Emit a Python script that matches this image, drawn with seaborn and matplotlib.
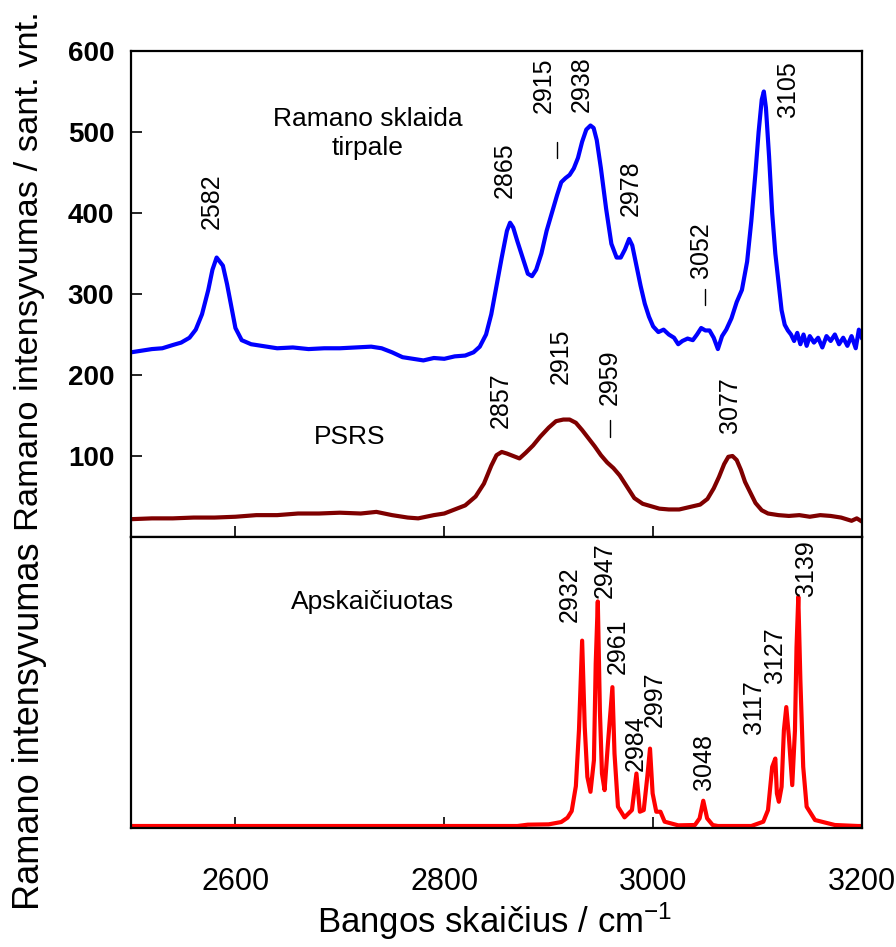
import matplotlib
matplotlib.use("Agg")
import matplotlib.pyplot as plt
import seaborn as sns

# ---------------- data ----------------
blue_x = [2500, 2510, 2520, 2530, 2540, 2548, 2556, 2562, 2568, 2574, 2578, 2582, 2585, 2588, 2592,
          2596, 2600, 2606, 2615, 2625, 2640, 2655, 2670, 2685, 2700, 2715, 2730, 2740, 2750, 2760,
          2770, 2780, 2790, 2800, 2810, 2820, 2828, 2834, 2840, 2845, 2850, 2855, 2860, 2863, 2866,
          2870, 2875, 2880, 2884, 2888, 2893, 2898, 2903, 2908, 2912, 2916, 2920, 2924, 2928, 2932,
          2936, 2940, 2943, 2946, 2950, 2955, 2960, 2965, 2969, 2973, 2977, 2980, 2984, 2988, 2992,
          2996, 3000, 3005, 3010, 3015, 3020, 3024, 3028, 3033, 3038, 3042, 3046, 3050, 3054, 3058,
          3062, 3066, 3070, 3075, 3080, 3085, 3090, 3094, 3098, 3101, 3104, 3106, 3108, 3111, 3114,
          3117, 3120, 3123, 3126, 3129, 3132, 3135, 3138, 3141, 3144, 3147, 3150, 3154, 3158, 3162,
          3166, 3170, 3174, 3178, 3182, 3186, 3190, 3194, 3197, 3200]
blue_y = [228, 230, 232, 233, 237, 240, 246, 256, 275, 305, 330, 345, 340, 335, 312,
          285, 258, 243, 238, 236, 233, 234, 232, 233, 233, 234, 235, 233, 228, 222,
          220, 218, 221, 220, 223, 224, 228, 235, 250, 275, 310, 345, 378, 388, 382,
          365, 345, 325, 322, 330, 350, 378, 400, 422, 438, 443, 447, 455, 468, 488,
          503, 508, 505, 490, 455, 405, 362, 345, 345, 355, 368, 360, 335, 310, 288,
          272, 260, 253, 256, 250, 246, 238, 242, 245, 243, 250, 258, 255, 255, 246,
          232, 248, 256, 270, 290, 305, 340, 390, 450, 500, 540, 550, 530, 470, 400,
          350, 315, 280, 262, 255, 250, 242, 252, 238, 250, 236, 248, 240, 246, 234,
          248, 242, 250, 238, 246, 236, 248, 233, 256, 245]

psrs_x = [2500, 2520, 2540, 2560, 2580, 2600, 2620, 2640, 2660, 2680, 2700, 2720, 2735, 2750, 2765,
          2775, 2790, 2800, 2810, 2820, 2830, 2838, 2845, 2850, 2855, 2860, 2866, 2872, 2878, 2885,
          2892, 2900, 2907, 2914, 2920, 2926, 2932, 2938, 2944, 2950, 2956, 2962, 2968, 2975, 2982,
          2990, 2998, 3006, 3015, 3025, 3035, 3045, 3052, 3058, 3063, 3068, 3072, 3076, 3080, 3084,
          3088, 3093, 3098, 3104, 3110, 3120, 3130, 3140, 3150, 3160, 3170, 3180, 3190, 3195, 3200]
psrs_y = [22, 23, 23, 24, 24, 25, 27, 27, 29, 29, 30, 29, 31, 27, 24,
          23, 27, 29, 34, 39, 50, 66, 88, 101, 105, 103, 100, 97, 104, 113,
          124, 135, 143, 145, 145, 141, 132, 122, 112, 101, 92, 85, 76, 62, 48,
          41, 38, 35, 34, 34, 37, 40, 47, 60, 74, 90, 99, 100, 95, 83,
          68, 55, 42, 33, 29, 27, 26, 27, 25, 27, 26, 24, 20, 23, 19]

calc_x = [2500, 2700, 2870, 2880, 2900, 2912, 2918, 2922, 2926, 2929, 2932, 2934.5, 2937, 2940,
          2943.3, 2945, 2947, 2949, 2951, 2953.5, 2956.7, 2961, 2963, 2966.3, 2972.6, 2979.7, 2984,
          2987.3, 2991, 2994.4, 2997, 2999.5, 3003, 3007, 3011, 3024, 3040, 3044.5, 3048, 3051.7,
          3057, 3062, 3094, 3105.5, 3110, 3114, 3117, 3118.5, 3120.4, 3123, 3125.2, 3127.5, 3130,
          3133.2, 3135.8, 3137.3, 3139, 3141, 3143.7, 3147, 3155, 3174, 3196, 3200]
calc_y = [0, 0, 0, 4, 5, 12, 25, 45, 120, 290, 558, 298, 148, 103,
          198, 488, 676, 348, 158, 108, 248, 418, 218, 58, 26, 48, 158,
          43, 48, 148, 233, 98, 43, 43, 13, 2, 3, 23, 76, 23,
          3, 0, 0, 13, 48, 178, 203, 98, 73, 118, 288, 358, 268,
          123, 288, 538, 690, 438, 178, 58, 18, 3, 0, 0]

top_labels = ["2582", "2865", "2915", "2938", "2978", "3052", "3105"]
top_lab_x = [2577, 2858, 2895, 2932, 2979, 3046, 3129]
top_lab_y = [380, 419, 523, 525, 396, 320, 519]

psrs_labels = ["2857", "2915", "2959", "3077"]
psrs_lab_x = [2854, 2912, 2958, 3074]
psrs_lab_y = [134, 189, 163, 128]

calc_labels = ["2932", "2947", "2961", "2984", "2997", "3048", "3117", "3127", "3139"]
calc_lab_x = [2920, 2954, 2966, 2983, 3002, 3049, 3097, 3117, 3146]
calc_lab_y = [615, 687, 457, 167, 297, 109, 277, 432, 692]

x_ticks = [2600, 2800, 3000, 3200]
y_ticks = [100, 200, 300, 400, 500, 600]

# ---------------- style ----------------
sns.set_theme(style="white")
plt.rcParams["font.family"] = ["Liberation Sans", "DejaVu Sans"]
plt.rcParams["mathtext.fontset"] = "custom"
plt.rcParams["mathtext.rm"] = "Liberation Sans Narrow"
plt.rcParams["mathtext.default"] = "regular"
for k in ("text.color", "axes.labelcolor", "xtick.color", "ytick.color", "axes.edgecolor"):
    plt.rcParams[k] = "black"
NARROW = ["Liberation Sans Narrow", "Liberation Sans", "DejaVu Sans"]

fig = plt.figure(figsize=(8.96, 9.47), dpi=100)
L, W = 131 / 896, 731 / 896
ax_top = fig.add_axes([L, 1 - 537 / 947, W, 486 / 947])
ax_bot = fig.add_axes([L, 1 - 828 / 947, W, 291 / 947])

sns.lineplot(x=blue_x, y=blue_y, ax=ax_top, color="#0000FF", lw=3.0, estimator=None, sort=False)
sns.lineplot(x=psrs_x, y=psrs_y, ax=ax_top, color="#7F0000", lw=3.0, estimator=None, sort=False)
sns.lineplot(x=calc_x, y=calc_y, ax=ax_bot, color="#FF0000", lw=3.0, estimator=None, sort=False)

for ax in (ax_top, ax_bot):
    ax.set_xlim(2500, 3200)
    ax.set_xticks(x_ticks)
    for s in ax.spines.values():
        s.set_visible(True)
        s.set_color("black")
        s.set_linewidth(1.6)
    ax.tick_params(axis="x", direction="in", length=8, width=1.2, color="black")
    ax.set_xlabel("")
    ax.set_ylabel("")

ax_top.set_ylim(0, 600)
ax_top.set_yticks(y_ticks)
ax_top.set_yticklabels([str(v) for v in y_ticks], fontsize=20, fontweight="bold")
ax_top.tick_params(axis="y", direction="in", length=8, width=1.2, pad=12, color="black", left=True)
ax_top.tick_params(axis="x", labelbottom=False, bottom=True)

ax_bot.set_ylim(-6, 870)
ax_bot.set_yticks([])
ax_bot.set_xticklabels([str(v) for v in x_ticks], fontsize=22, family=NARROW)
ax_bot.tick_params(axis="x", pad=28, bottom=True)

# peak labels
for t, x, y in zip(top_labels, top_lab_x, top_lab_y):
    ax_top.text(x, y, t, rotation=90, ha="center", va="bottom", fontsize=18)
for t, x, y in zip(psrs_labels, psrs_lab_x, psrs_lab_y):
    ax_top.text(x, y, t, rotation=90, ha="center", va="bottom", fontsize=18)
for t, x, y in zip(calc_labels, calc_lab_x, calc_lab_y):
    ax_bot.text(x, y, t, rotation=90, ha="center", va="bottom", fontsize=18)

# small marker dashes
ax_top.plot([2908, 2908], [468, 488], color="black", lw=1)
ax_top.plot([3050, 3050], [286, 306], color="black", lw=1)
ax_top.plot([2959, 2959], [124, 144], color="black", lw=1)

ax_top.text(2727, 498, "Ramano sklaida\ntirpale", ha="center", va="center", fontsize=19,
            family=NARROW, linespacing=1.25)
ax_top.text(2709, 123, "PSRS", ha="center", va="center", fontsize=19, family=NARROW)
ax_bot.text(2731, 675, "Apskaičiuotas", ha="center", va="center", fontsize=19, family=NARROW)

fig.text(30 / 896, 1 - 531 / 947, "Ramano intensyvumas / sant. vnt.", rotation=90,
         ha="center", va="bottom", fontsize=24.8, family=NARROW)
fig.text(30 / 896, 1 - 910 / 947, "Ramano intensyvumas", rotation=90,
         ha="center", va="bottom", fontsize=26, family=NARROW)
fig.text(495 / 896, 1 - 942 / 947, "Bangos skaičius / cm$^{-1}$", ha="center", va="bottom",
         fontsize=25, family=NARROW)

fig.savefig("out.png", dpi=100)
